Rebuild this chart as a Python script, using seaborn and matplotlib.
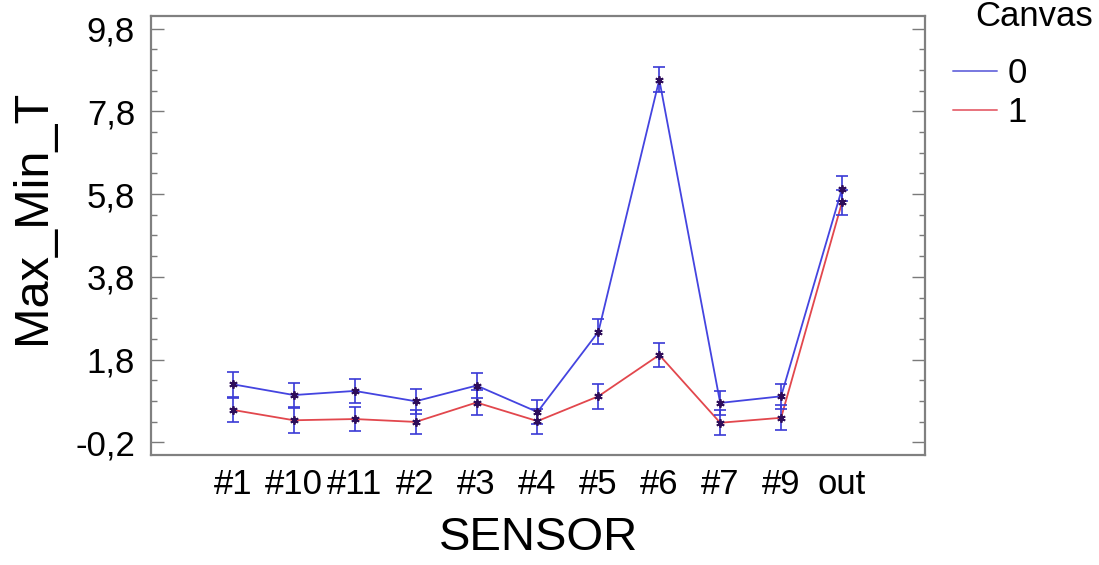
import matplotlib
matplotlib.use("Agg")
import matplotlib.pyplot as plt
from matplotlib.lines import Line2D
from matplotlib.ticker import FixedLocator, FuncFormatter
import numpy as np
import pandas as pd
import seaborn as sns

# Interaction plot data: means of Max_Min_T per sensor for each Canvas level
sensors = ["#1", "#10", "#11", "#2", "#3", "#4", "#5", "#6", "#7", "#9", "out"]
canvas_0 = [1.20, 0.94, 1.04, 0.79, 1.17, 0.53, 2.47, 8.57, 0.75, 0.91, 5.93]
canvas_1 = [0.58, 0.33, 0.36, 0.29, 0.76, 0.31, 0.91, 1.91, 0.27, 0.39, 5.60]
interval_half = 0.30  # half-width of the LSD intervals
y_ticks = [-0.2, 1.8, 3.8, 5.8, 7.8, 9.8]
canvas_levels = ["0", "1"]

sns.set_theme(style="white")
plt.rcParams["font.family"] = ["Liberation Sans", "DejaVu Sans"]
plt.rcParams.update({"text.color": "black", "axes.labelcolor": "black",
                     "xtick.color": "black", "ytick.color": "black"})

df = pd.DataFrame({
    "SENSOR": sensors * 2,
    "Canvas": [canvas_levels[0]] * len(sensors) + [canvas_levels[1]] * len(sensors),
    "Max_Min_T": canvas_0 + canvas_1,
})

W, H = 1099, 565
fig = plt.figure(figsize=(W / 100, H / 100), dpi=100)
ax = fig.add_axes([151 / W, 1 - 455 / H, (925 - 151) / W, (455 - 16) / H])

palette = {"0": "#4444e0", "1": "#e2474d"}
sns.lineplot(data=df, x="SENSOR", y="Max_Min_T", hue="Canvas", palette=palette,
             estimator=None, sort=False, legend=False, lw=1.3, ax=ax, zorder=2)

for vals in (canvas_0, canvas_1):
    ax.errorbar(sensors, vals, yerr=interval_half, fmt="none", ecolor="#3a3ad6",
                elinewidth=1.2, capsize=4.5, capthick=1.2, zorder=3)
    ax.plot(sensors, vals, ls="none", marker=(6, 2, 0), ms=6,
            mec="#2e0d5a", mew=1.3, zorder=4)

ax.set_xlim(-1.346, 11.363)
ax.set_ylim(-0.51, 10.11)

ax.yaxis.set_major_locator(FixedLocator(y_ticks))
ax.yaxis.set_minor_locator(FixedLocator(np.arange(-0.2, 10.0, 0.5)))
ax.yaxis.set_major_formatter(FuncFormatter(lambda v, p: f"{v:.1f}".replace(".", ",")))

ax.tick_params(axis="y", which="both", direction="in", left=True, right=True,
               color="#7a7a7a", width=1.0, labelsize=25, labelcolor="black", pad=11.5)
ax.tick_params(axis="y", which="major", length=9.5)
ax.tick_params(axis="y", which="minor", length=4.5)
ax.tick_params(axis="x", length=0, labelsize=25, labelcolor="black", pad=9)

for s in ax.spines.values():
    s.set_color("#808080")
    s.set_linewidth(1.6)

ax.set_xlabel("SENSOR", fontsize=34)
ax.set_ylabel("Max_Min_T", fontsize=35)
ax.xaxis.set_label_coords(0.5006, -0.140)
ax.yaxis.set_label_coords(-0.124, 0.543)

handles = [Line2D([], [], color="#7777e0", lw=1.4),
           Line2D([], [], color="#e8727c", lw=1.4)]
fig.legend(handles, canvas_levels, loc="upper left",
           bbox_to_anchor=(953 / W, 1 - 57 / H), bbox_transform=fig.transFigure,
           frameon=False, fontsize=25, handlelength=1.28, handletextpad=0.3,
           labelspacing=0.18, borderpad=0, borderaxespad=0)
fig.text(975 / W, 1 - 16 / H, "Canvas", ha="left", va="center", fontsize=25)

fig.savefig("out.png", dpi=100)
